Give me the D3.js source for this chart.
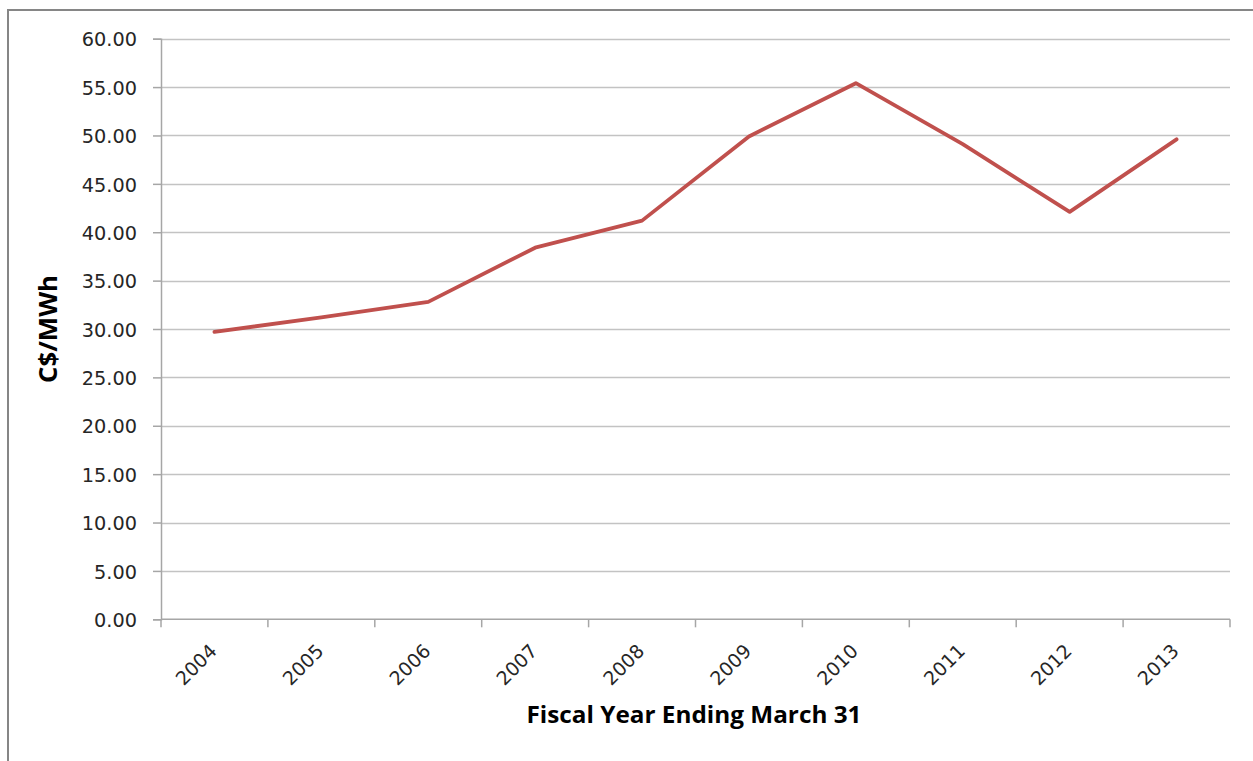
<!DOCTYPE html>
<html>
<head>
<meta charset="utf-8">
<script src="https://d3js.org/d3.v7.min.js"></script>
<style>
  html, body { margin: 0; padding: 0; background: #fff; }
  svg { display: block; }
</style>
</head>
<body>
<svg id="chart" width="1253" height="761"></svg>
<script>
// Fiscal years and average price (C$/MWh)
const years = ["2004", "2005", "2006", "2007", "2008", "2009", "2010", "2011", "2012", "2013"];
const prices = [29.7, 31.2, 32.8, 38.4, 41.2, 49.9, 55.4, 49.1, 42.1, 49.6];
const yTicks = [0, 5, 10, 15, 20, 25, 30, 35, 40, 45, 50, 55, 60];

const svg = d3.select("#chart");
const margin = { left: 161, right: 1230, top: 38.7, bottom: 619.3 };

// outer chart frame
svg.append("rect")
  .attr("x", 8).attr("y", 10)
  .attr("width", 1300).attr("height", 800)
  .attr("fill", "none").attr("stroke", "#868686").attr("stroke-width", 2);

const x = d3.scaleBand().domain(years).range([margin.left, margin.right]).padding(0);
const y = d3.scaleLinear().domain([0, 60]).range([margin.bottom, margin.top]);

// horizontal gridlines
svg.append("g")
  .selectAll("line")
  .data(yTicks.filter(d => d > 0))
  .join("line")
  .attr("x1", margin.left).attr("x2", margin.right)
  .attr("y1", d => Math.round(y(d)) + 0.5).attr("y2", d => Math.round(y(d)) + 0.5)
  .attr("stroke", "#c3c3c3").attr("stroke-width", 1.5);

// y axis
const yAxis = svg.append("g")
  .attr("transform", `translate(${margin.left},0)`)
  .call(d3.axisLeft(y).tickValues(yTicks).tickFormat(d3.format(".2f")).tickSize(8).tickPadding(16));
yAxis.select(".domain").attr("stroke", "#a6a6a6").attr("stroke-width", 1.5);
yAxis.selectAll(".tick line").attr("stroke", "#a6a6a6").attr("stroke-width", 1.5);
yAxis.selectAll(".tick text")
  .attr("font-family", "'DejaVu Sans', Verdana, sans-serif")
  .attr("font-size", 19.3)
  .attr("fill", "#262626")
  .attr("dy", "0.37em");

// x axis with category boundary ticks
const xAxisG = svg.append("g").attr("transform", `translate(0,${margin.bottom})`);
xAxisG.append("line")
  .attr("x1", margin.left).attr("x2", margin.right)
  .attr("y1", 0).attr("y2", 0)
  .attr("stroke", "#a6a6a6").attr("stroke-width", 1.5);
const boundaries = years.map(d => x(d)).concat([x(years[years.length - 1]) + x.bandwidth()]);
xAxisG.selectAll("line.bound")
  .data(boundaries)
  .join("line")
  .attr("class", "bound")
  .attr("x1", d => d).attr("x2", d => d)
  .attr("y1", 0).attr("y2", 8)
  .attr("stroke", "#a6a6a6").attr("stroke-width", 1.5);

svg.append("g")
  .selectAll("text")
  .data(years)
  .join("text")
  .attr("transform", d => `translate(${x(d) + x.bandwidth() / 2 + 3.5},${margin.bottom + 33}) rotate(-45)`)
  .attr("text-anchor", "end")
  .attr("font-family", "'DejaVu Sans', Verdana, sans-serif")
  .attr("font-size", 19)
  .attr("fill", "#262626")
  .text(d => d);

// price line
const line = d3.line()
  .x((d, i) => x(years[i]) + x.bandwidth() / 2)
  .y(d => y(d));

svg.append("path")
  .datum(prices)
  .attr("d", line)
  .attr("fill", "none")
  .attr("stroke", "#c0504d")
  .attr("stroke-width", 3.8)
  .attr("stroke-linejoin", "round")
  .attr("stroke-linecap", "round");

// axis titles
svg.append("text")
  .attr("x", 694).attr("y", 722.5)
  .attr("text-anchor", "middle")
  .attr("font-family", "'Liberation Sans Narrow', 'Open Sans', sans-serif")
  .attr("font-weight", "bold")
  .attr("font-size", 22.5)
  .attr("textLength", 335)
  .attr("lengthAdjust", "spacingAndGlyphs")
  .attr("fill", "#000")
  .text("Fiscal Year Ending March 31");

svg.append("text")
  .attr("transform", "translate(57,329) rotate(-90)")
  .attr("text-anchor", "middle")
  .attr("font-family", "'Open Sans', 'DejaVu Sans', sans-serif")
  .attr("font-weight", "bold")
  .attr("font-size", 25)
  .attr("textLength", 108)
  .attr("lengthAdjust", "spacingAndGlyphs")
  .attr("fill", "#000")
  .text("C$/MWh");
</script>
</body>
</html>
